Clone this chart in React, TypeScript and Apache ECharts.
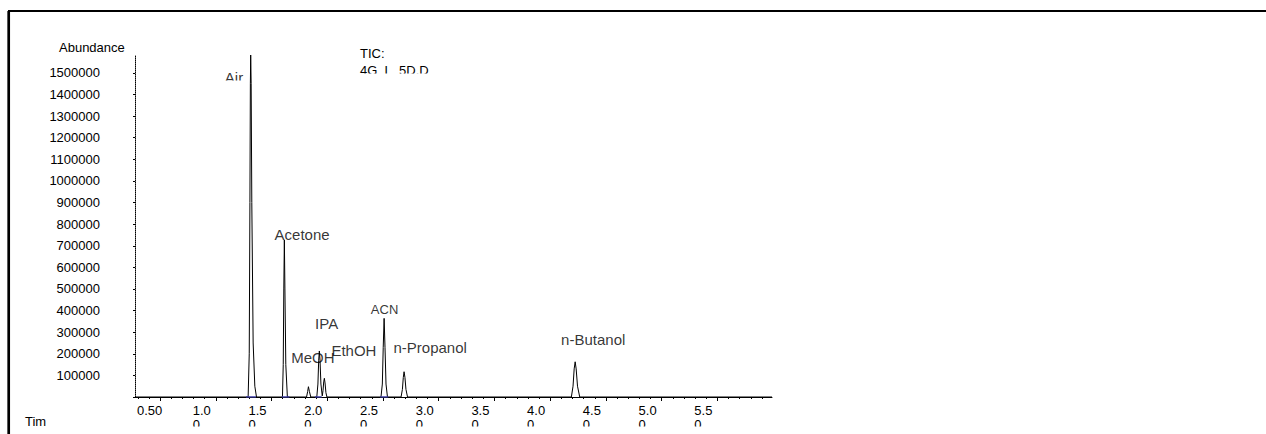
import React, { useEffect, useRef } from "react";
import * as echarts from "echarts";

// chromatogram trace (time in min, abundance)
const traceTime = [
    0.275,
    1.29, 1.3, 1.306, 1.31, 1.313, 1.317, 1.323, 1.335, 1.35, 1.365,
    1.598, 1.605, 1.61, 1.615, 1.62, 1.628, 1.642,
    1.814, 1.824, 1.831, 1.84, 1.852,
    1.906, 1.916, 1.923, 1.929, 1.935, 1.943, 1.955,
    1.962, 1.968, 1.974, 1.98, 1.988, 1.997,
    2.482, 2.494, 2.502, 2.51, 2.518, 2.527, 2.54,
    2.662, 2.674, 2.682, 2.689, 2.697, 2.706, 2.72,
    4.19, 4.205, 4.215, 4.224, 4.233, 4.245, 4.265,
    5.99,
];
const traceAbundance = [
    0,
    0, 200000, 900000, 1450000, 1583000, 1450000, 900000, 250000, 50000, 0,
    0, 150000, 500000, 727000, 500000, 150000, 0,
    0, 25000, 47600, 25000, 0,
    0, 60000, 170000, 213000, 170000, 60000, 5000,
    30000, 70000, 86500, 65000, 20000, 0,
    0, 60000, 230000, 364000, 230000, 60000, 0,
    0, 35000, 90000, 117000, 90000, 35000, 0,
    0, 50000, 130000, 163000, 130000, 50000, 0,
    0,
];

// integration marks on the baseline (start, end in min)
const markStart = [1.271, 1.592, 1.89, 2.474];
const markEnd = [1.361, 1.66, 1.95, 2.546];

// peak names and where their labels sit
const peakNames = ["Air", "Acetone", "IPA", "MeOH", "EthOH", "ACN", "n-Propanol", "n-Butanol"];
const peakLabelTime = [1.163, 1.774, 1.994, 1.871, 2.239, 2.514, 2.923, 4.386];
const peakLabelAbundance = [1480000, 754000, 342000, 183000, 213000, 405000, 229000, 268000];

const yTickValues = [
    0, 100000, 200000, 300000, 400000, 500000, 600000, 700000, 800000,
    900000, 1000000, 1100000, 1200000, 1300000, 1400000, 1500000,
];
const yLabelValues = yTickValues.slice(1);
const xMajorTicks = [0.5, 1.0, 1.5, 2.0, 2.5, 3.0, 3.5, 4.0, 4.5, 5.0, 5.5];
const xTickLabels = ["0.50", "1.0\n0", "1.5\n0", "2.0\n0", "2.5\n0", "3.0\n0", "3.5\n0", "4.0\n0", "4.5\n0", "5.0\n0", "5.5\n0"];

const X_MIN = 0.275;
const X_MAX = 5.99;
const LABEL_SHIFT = 0.207; // labels sit left of their ticks in the original

const FONT = "Liberation Sans, Arial, sans-serif";

const App: React.FC = () => {
    const chartRef = useRef<HTMLDivElement>(null);

    useEffect(() => {
        if (!chartRef.current) return;
        const chart = echarts.init(chartRef.current, undefined, { renderer: "svg" });

        const minorTicks: number[] = [];
        for (let i = 3; i <= 59; i++) minorTicks.push(i / 10);

        const marks: (number[] | null)[] = [];
        markStart.forEach((s, i) => {
            marks.push([s, 0], [markEnd[i], 0], null as any);
        });

        const options = {
            animation: false,
            textStyle: { fontFamily: FONT },
            grid: { left: 135, right: 494, top: 55, bottom: 37, containLabel: false },
            xAxis: [
                {
                    type: "value",
                    min: X_MIN,
                    max: X_MAX,
                    position: "bottom",
                    axisLine: { onZero: false, lineStyle: { color: "#000", width: 1 } },
                    axisTick: { customValues: xMajorTicks, length: 4, lineStyle: { color: "#000" } },
                    axisLabel: { show: false },
                    splitLine: { show: false },
                },
                {
                    type: "value",
                    min: X_MIN,
                    max: X_MAX,
                    position: "bottom",
                    axisLine: { show: false, onZero: false },
                    axisTick: { customValues: minorTicks, length: 2, lineStyle: { color: "#000" } },
                    axisLabel: { show: false },
                    splitLine: { show: false },
                },
                {
                    type: "value",
                    min: X_MIN + LABEL_SHIFT,
                    max: X_MAX + LABEL_SHIFT,
                    position: "bottom",
                    axisLine: { show: false, onZero: false },
                    axisTick: { show: false },
                    axisLabel: {
                        customValues: xMajorTicks,
                        formatter: (v: number) => xTickLabels[xMajorTicks.indexOf(Math.round(v * 10) / 10)] ?? "",
                        align: "left",
                        margin: 6,
                        fontSize: 13,
                        lineHeight: 14,
                        color: "#000",
                        fontFamily: FONT,
                    },
                    splitLine: { show: false },
                },
            ],
            yAxis: {
                type: "value",
                min: 0,
                max: 1583000,
                axisLine: { show: true, lineStyle: { color: "#000", type: "dotted", width: 1 } },
                axisTick: { customValues: yTickValues, length: 2, lineStyle: { color: "#000" } },
                axisLabel: {
                    customValues: yLabelValues,
                    formatter: (v: number) => String(v),
                    margin: 35,
                    fontSize: 13,
                    color: "#000",
                    fontFamily: FONT,
                },
                splitLine: { show: false },
            },
            series: [
                {
                    name: "TIC",
                    type: "line",
                    xAxisIndex: 0,
                    data: traceTime.map((t, i) => [t, traceAbundance[i]]),
                    symbol: "none",
                    lineStyle: { color: "#000", width: 1 },
                    z: 3,
                },
                {
                    name: "integration",
                    type: "line",
                    xAxisIndex: 0,
                    data: marks,
                    connectNulls: false,
                    symbol: "none",
                    lineStyle: { color: "#3b3ba8", width: 1.5 },
                    z: 4,
                },
                {
                    name: "labels",
                    type: "scatter",
                    xAxisIndex: 0,
                    symbolSize: 0,
                    itemStyle: { color: "rgba(0,0,0,0)" },
                    data: peakNames.map((n, i) => ({
                        name: n,
                        value: [peakLabelTime[i], peakLabelAbundance[i]],
                        label: n === "ACN" ? { fontSize: 13 } : undefined,
                    })),
                    label: {
                        show: true,
                        position: "inside",
                        formatter: (p: any) => p.name,
                        fontSize: 15,
                        color: "#000",
                        fontFamily: FONT,
                    },
                    z: 5,
                },
            ],
            graphic: [
                { type: "line", shape: { x1: 8, y1: 11, x2: 1266, y2: 11 }, style: { stroke: "#000", lineWidth: 2 }, z: 100 },
                { type: "line", shape: { x1: 8.7, y1: 11, x2: 8.7, y2: 434 }, style: { stroke: "#000", lineWidth: 2.7 }, z: 100 },
                { type: "text", left: 59, top: 41, style: { text: "Abundance", fontSize: 13, fontFamily: FONT, fill: "#000" } },
                { type: "text", left: 25, top: 415, style: { text: "Tim", fontSize: 13, fontFamily: FONT, fill: "#000" } },
                { type: "text", left: 360, top: 47, style: { text: "TIC:", fontSize: 13, fontFamily: FONT, fill: "#000" } },
                { type: "text", left: 360, top: 64, style: { text: "4G_L_5D.D", fontSize: 13, fontFamily: FONT, fill: "#000" } },
                // white bands that crop texts the way the original is cropped
                { type: "rect", shape: { x: 355, y: 73.5, width: 90, height: 8 }, style: { fill: "#fff" }, z: 100 },
                { type: "rect", shape: { x: 216, y: 80.5, width: 31, height: 6 }, style: { fill: "#fff" }, z: 100 },
                { type: "rect", shape: { x: 130, y: 426.5, width: 650, height: 8 }, style: { fill: "#fff" }, z: 100 },
            ],
        };

        chart.setOption(options as any);

        return () => {
            chart.dispose();
        };
    }, []);

    return (
        <div
            ref={chartRef}
            style={{ position: "fixed", left: 0, top: 0, width: "1266px", height: "434px", background: "#fff" }}
        />
    );
};

export default App;
